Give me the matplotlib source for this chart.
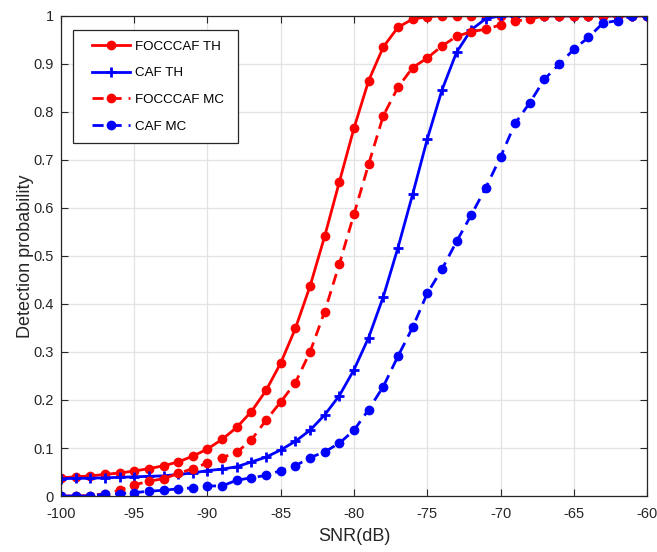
import numpy as np
import matplotlib
matplotlib.use("Agg")
import matplotlib.pyplot as plt
from matplotlib.legend_handler import HandlerLine2D

plt.rcParams['font.family'] = ['Liberation Sans', 'DejaVu Sans']
plt.rcParams['axes.unicode_minus'] = False

# SNR grid in dB
snr = np.arange(-100, -59, 1)

foc_th = [0.038, 0.040, 0.042, 0.045, 0.048, 0.052, 0.057, 0.063, 0.071, 0.083,
          0.098, 0.118, 0.143, 0.176, 0.220, 0.277, 0.349, 0.437, 0.541, 0.654,
          0.766, 0.865, 0.935, 0.976, 0.993, 0.998, 1.0, 1.0, 1.0, 1.0,
          1.0, 1.0, 1.0, 1.0, 1.0, 1.0, 1.0, 1.0, 1.0, 1.0, 1.0]
caf_th = [0.036, 0.037, 0.037, 0.038, 0.039, 0.040, 0.041, 0.042, 0.045, 0.048,
          0.053, 0.056, 0.061, 0.071, 0.081, 0.096, 0.114, 0.137, 0.169, 0.209,
          0.263, 0.330, 0.415, 0.517, 0.628, 0.743, 0.845, 0.924, 0.971, 0.994,
          1.0, 1.0, 1.0, 1.0, 1.0, 1.0, 1.0, 1.0, 1.0, 1.0, 1.0]
foc_mc = [0.0, 0.0, 0.001, 0.005, 0.012, 0.023, 0.031, 0.036, 0.047, 0.057,
          0.069, 0.080, 0.091, 0.117, 0.158, 0.196, 0.236, 0.300, 0.384, 0.483,
          0.587, 0.691, 0.792, 0.851, 0.892, 0.912, 0.937, 0.957, 0.967, 0.972,
          0.981, 0.989, 0.993, 1.0, 1.0, 1.0, 1.0, 1.0, 1.0, 1.0, 1.0]
caf_mc = [0.0, 0.0, 0.0, 0.004, 0.005, 0.007, 0.010, 0.012, 0.015, 0.017,
          0.021, 0.021, 0.033, 0.038, 0.043, 0.053, 0.063, 0.080, 0.092, 0.110,
          0.137, 0.180, 0.228, 0.291, 0.351, 0.422, 0.472, 0.530, 0.585, 0.642,
          0.706, 0.776, 0.819, 0.868, 0.899, 0.930, 0.955, 0.985, 0.990, 1.0, 1.0]

fig = plt.figure(figsize=(6.57, 5.52), dpi=100)
ax = fig.add_axes([0.0928, 0.1014, 0.892, 0.870])

dash = (0, (4, 2.5))
ax.plot(snr, foc_th, color='#ff0000', lw=2, marker='o', ms=6, label='FOCCCAF TH')
ax.plot(snr, caf_th, color='#0000ff', lw=2, marker='+', ms=7, mew=2, label='CAF TH')
ax.plot(snr, foc_mc, color='#ff0000', lw=2, ls=dash, marker='o', ms=6, label='FOCCCAF MC')
ax.plot(snr, caf_mc, color='#0000ff', lw=2, ls=dash, marker='o', ms=6, label='CAF MC')

ax.set_xlim(-100, -60)
ax.set_ylim(0, 1)
ax.set_xticks(np.arange(-100, -59, 5))
ax.set_yticks(np.arange(0, 1.01, 0.1))
ax.set_yticklabels(['0', '0.1', '0.2', '0.3', '0.4', '0.5', '0.6', '0.7', '0.8', '0.9', '1'])
ax.grid(True, color='#e3e3e3', lw=0.9)
ax.set_axisbelow(True)
ax.tick_params(direction='in', top=True, right=True, labelsize=10.5, colors='#262626',
               length=5, width=0.8)
ax.tick_params(axis='x', pad=8)
ax.tick_params(axis='y', pad=5)
for s in ax.spines.values():
    s.set_color('#262626')
    s.set_linewidth(0.9)

ax.set_xlabel('SNR(dB)', fontsize=13, color='#262626', labelpad=5)
ax.set_ylabel('Detection probability', fontsize=13, color='#262626', labelpad=0)

# matlab style legend: blank room left of the line samples, wide box
leg = ax.legend(loc='upper left', bbox_to_anchor=(0.0205, 0.5, 0.2816, 0.471),
                mode='expand', borderaxespad=0,
                fontsize=9.6, fancybox=False, framealpha=1, edgecolor='#262626',
                handlelength=3.46, borderpad=0.8, labelspacing=1.07, handletextpad=0.38,
                handler_map={plt.Line2D: HandlerLine2D(xpad=0.6)})
leg.get_frame().set_linewidth(0.9)

fig.savefig('out.png', dpi=100)
